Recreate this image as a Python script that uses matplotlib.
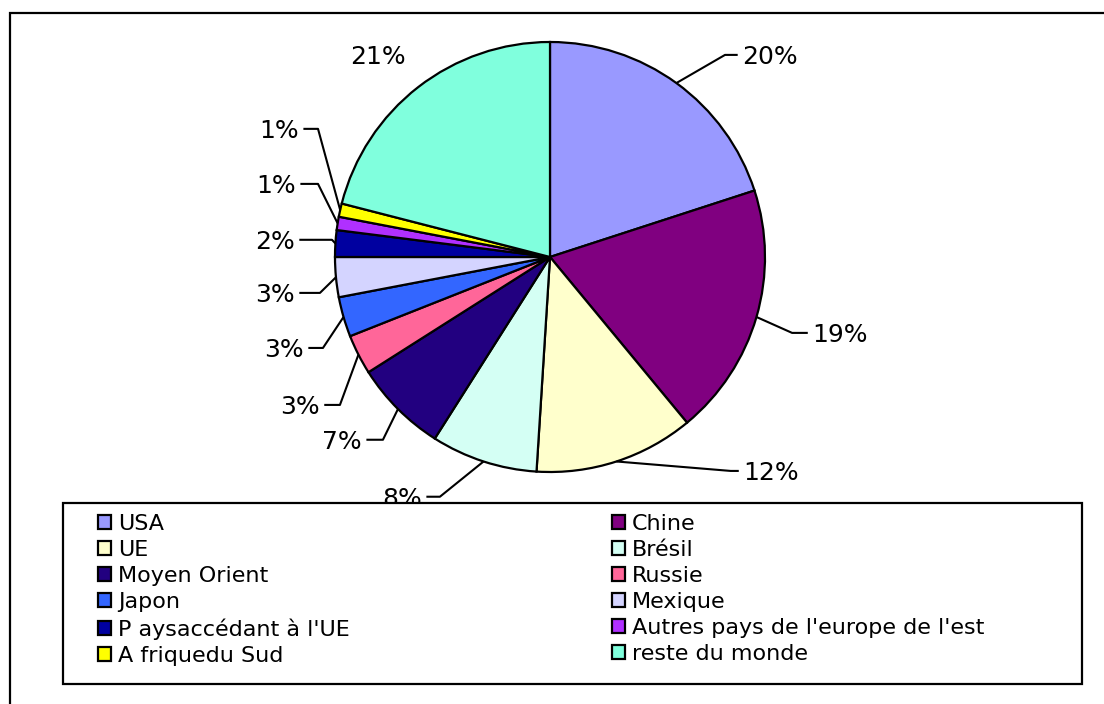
import numpy as np
import matplotlib
matplotlib.use("Agg")
import matplotlib.pyplot as plt
from matplotlib.patches import Rectangle

# Data
countries = ['USA', 'Chine', 'UE', 'Brésil', 'Moyen Orient', 'Russie', 'Japon',
             'Mexique', "P aysaccédant à l'UE", "Autres pays de l'europe de l'est",
             'A friquedu Sud', 'reste du monde']
shares = [20, 19, 12, 8, 7, 3, 3, 3, 2, 1, 1, 21]
colors = ['#9999FF', '#800080', '#FFFFCC', '#D4FFF4', '#220080', '#FF6699',
          '#3366FF', '#D4D4FF', '#0000A0', '#B030FF', '#FFFF00', '#80FFDD']

# label layout (text x, text y, elbow x, alignment) in pie-radius units
label_layout = [(0.893, 0.930, 0.814, 'left'),
                (1.219, -0.363, 1.126, 'left'),
                (0.898, -1.005, 0.840, 'left'),
                (-0.595, -1.125, -0.512, 'right'),
                (-0.874, -0.860, -0.777, 'right'),
                (-1.070, -0.698, -0.977, 'right'),
                (-1.144, -0.433, -1.056, 'right'),
                (-1.186, -0.177, -1.070, 'right'),
                (-1.186, 0.070, -1.014, 'right'),
                (-1.181, 0.330, -1.079, 'right'),
                (-1.167, 0.586, -1.079, 'right'),
                (-0.800, 0.930, None, 'center')]

plt.rcParams['font.family'] = 'DejaVu Sans'

W, H = 1104, 704
cx, cy, R = 550, 257, 215
fig = plt.figure(figsize=(W / 100, H / 100), dpi=100)
ax = fig.add_axes([0, 0, 1, 1])

wedges, _ = ax.pie(shares, colors=colors, startangle=90, counterclock=False,
                   radius=1.0, wedgeprops=dict(edgecolor='black', linewidth=1.6))
# pie resets the limits, so set them afterwards (1 unit = R pixels)
ax.set_aspect('auto')
ax.set_xlim((0 - cx) / R, (W - cx) / R)
ax.set_ylim((cy - H) / R, cy / R)
ax.axis('off')

# outer frame (cut off at right and bottom)
fig.patches.append(Rectangle((10 / W, -0.1), 1.2, 1.1 - 13 / H,
                             transform=fig.transFigure, fill=False,
                             edgecolor='black', linewidth=1.6))

# percentage labels with leader lines
for w, val, (tx, ty, ex, ha) in zip(wedges, shares, label_layout):
    mid = np.deg2rad((w.theta1 + w.theta2) / 2)
    px, py = np.cos(mid), np.sin(mid)
    ax.text(tx, ty, f'{val}%', ha=ha, va='center', fontsize=18, zorder=5)
    if ex is not None:
        gap = 0.02 if ha == 'left' else -0.02
        ax.plot([px, ex, tx - gap], [py, ty + 0.01, ty + 0.01], color='black', lw=1.5,
                solid_capstyle='butt', zorder=4)

# legend box (covers the bottom of the 8% label, as in the original)
fig.patches.append(Rectangle((63 / W, 1 - 684 / H), (1082 - 63) / W, (684 - 503) / H,
                             transform=fig.transFigure, facecolor='white',
                             edgecolor='black', linewidth=1.6, zorder=3))

# legend, two columns filled row by row like the original
leg_kw = dict(loc='upper left', fontsize=16, frameon=False,
              handlelength=0.6, handleheight=0.6, handletextpad=0.3,
              labelspacing=0.27, borderpad=0, borderaxespad=0)
for col, x0 in [(0, 98), (1, 612)]:
    idx = list(range(col, len(countries), 2))
    leg = fig.legend([wedges[i] for i in idx], [countries[i] for i in idx],
                     bbox_to_anchor=(x0 / W, 1 - 514 / H), **leg_kw)
    leg.set_zorder(5)
    for p in leg.get_patches():
        p.set_linewidth(1.6)

fig.savefig('out.png', dpi=100)
